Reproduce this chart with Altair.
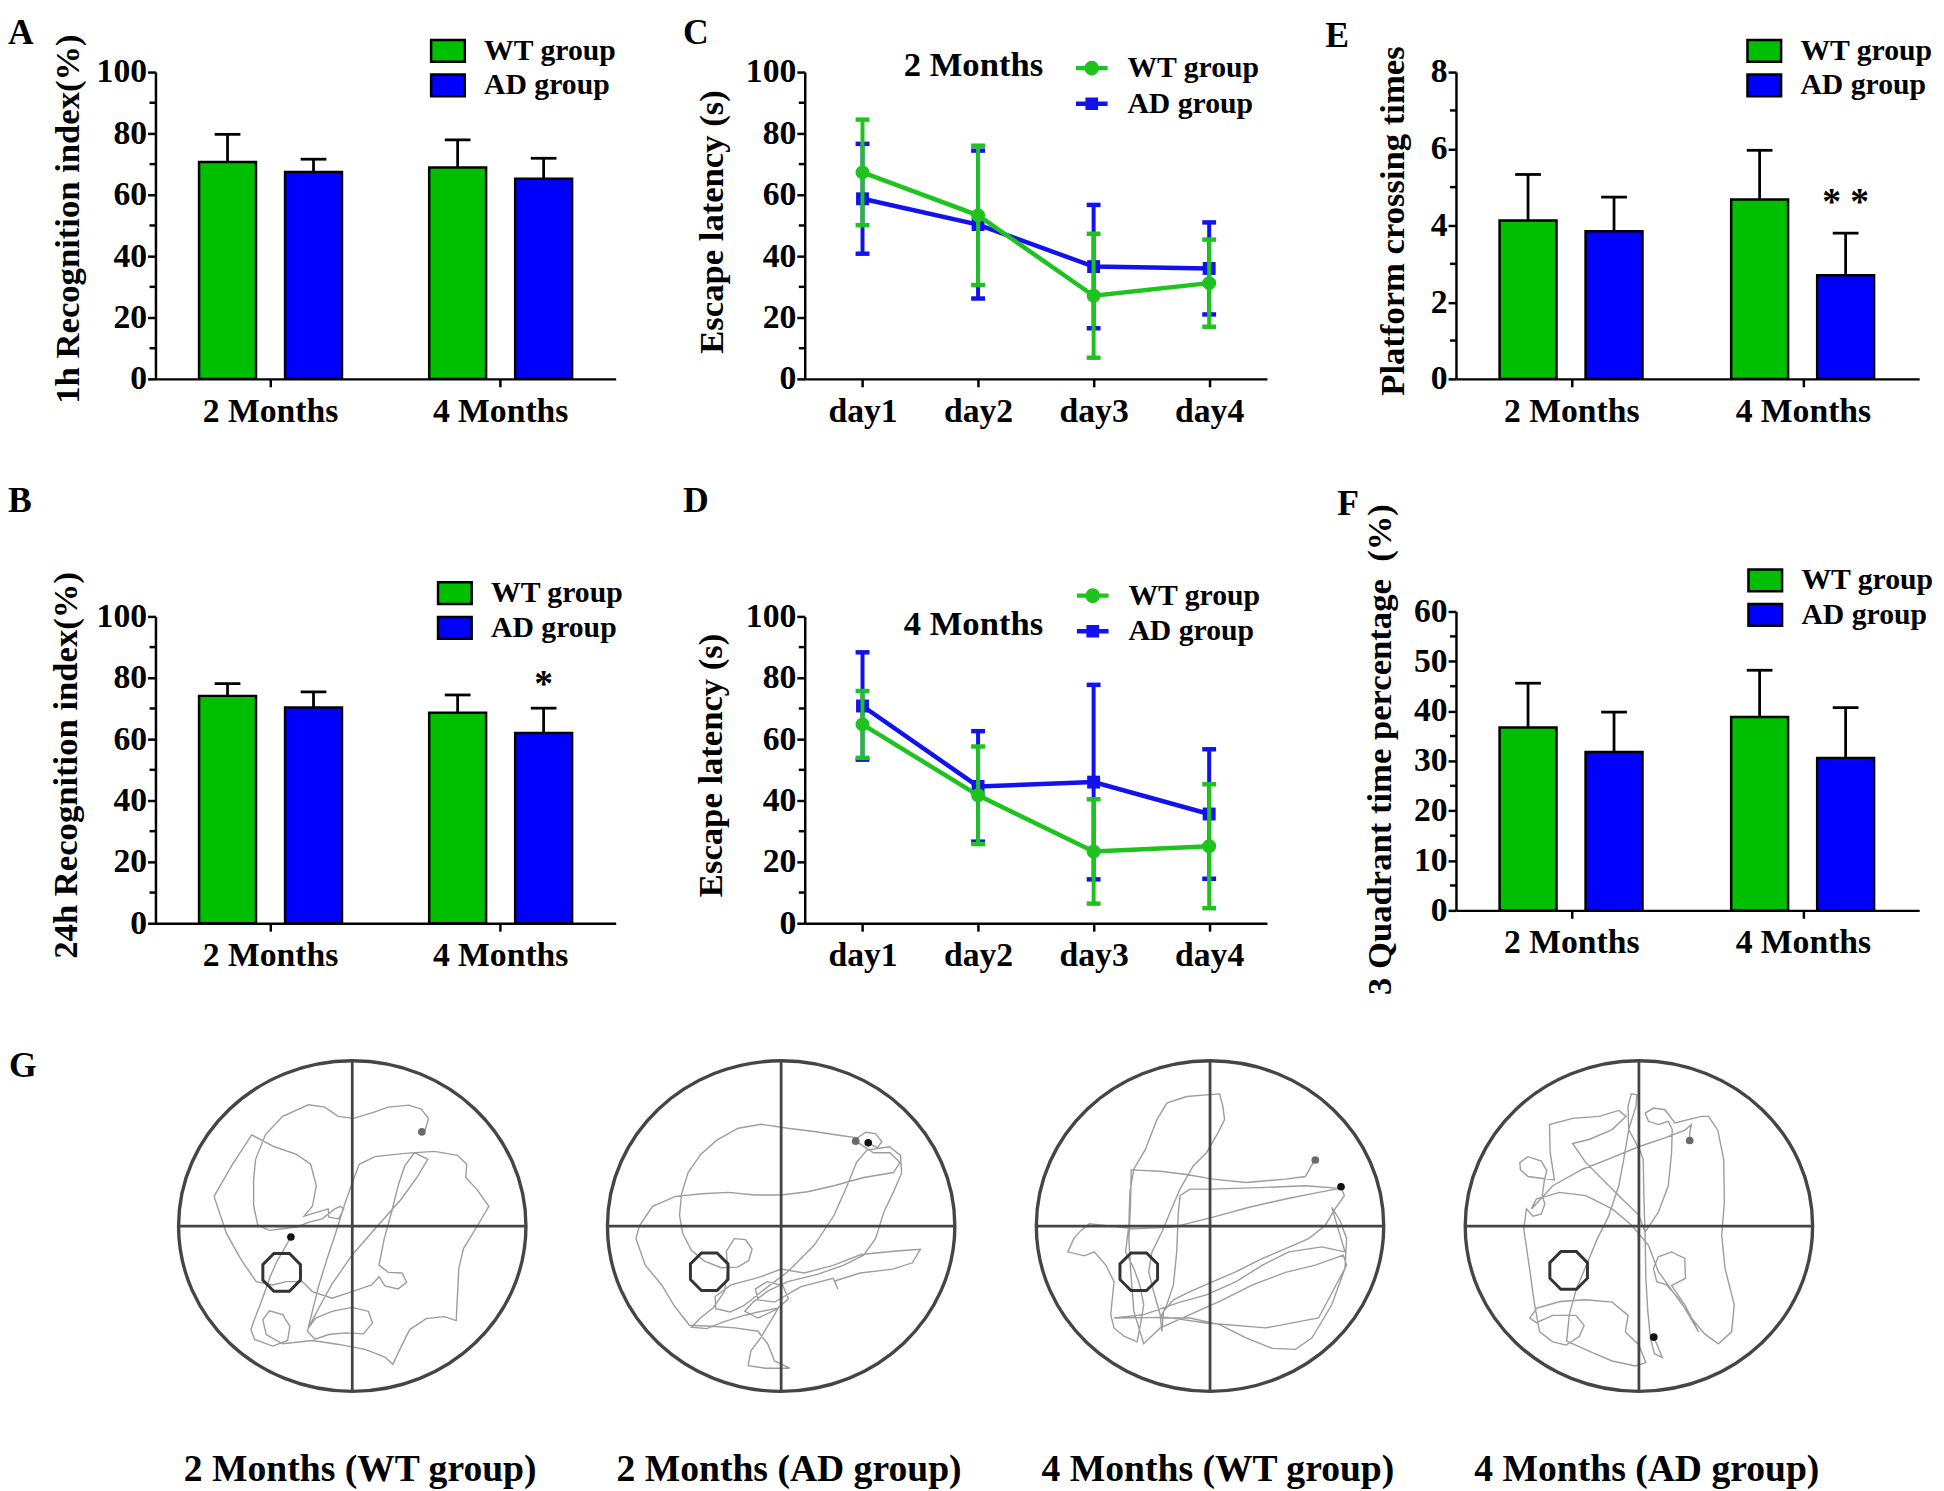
import altair as alt
import pandas as pd

FONT = "Liberation Serif"
GREEN = "#00BE00"
BLUE = "#0000FF"
LGREEN = "#1EC31E"
LBLUE = "#1212F0"

months = ["2 Months", "4 Months"]
groups = ["WT group", "AD group"]
days = ["day1", "day2", "day3", "day4"]

# Panel A: 1h recognition index (mean, SEM)
a_wt_mean = [70.7, 68.9]; a_wt_sem = [9.0, 9.0]
a_ad_mean = [67.4, 65.2]; a_ad_sem = [4.2, 6.7]
# Panel B: 24h recognition index
b_wt_mean = [74.1, 68.6]; b_wt_sem = [4.0, 5.8]
b_ad_mean = [70.3, 62.0]; b_ad_sem = [5.1, 8.1]
# Panel E: platform crossing times
e_wt_mean = [4.13, 4.68]; e_wt_sem = [1.20, 1.28]
e_ad_mean = [3.85, 2.70]; e_ad_sem = [0.89, 1.10]
# Panel F: 3 quadrant time percentage
f_wt_mean = [36.7, 38.8]; f_wt_sem = [8.9, 9.4]
f_ad_mean = [31.8, 30.6]; f_ad_sem = [8.0, 10.1]
# Panel C: escape latency, 2 months
c_wt_mean = [67.3, 53.3, 27.1, 31.2]; c_wt_sem = [17.2, 22.7, 20.2, 14.2]
c_ad_mean = [58.7, 50.3, 36.6, 36.0]; c_ad_sem = [17.9, 24.1, 20.1, 15.0]
# Panel D: escape latency, 4 months
d_wt_mean = [64.8, 41.7, 23.4, 25.1]; d_wt_sem = [10.9, 15.9, 17.0, 20.2]
d_ad_mean = [70.8, 44.6, 46.0, 35.6]; d_ad_sem = [17.5, 18.0, 31.7, 21.1]

# Panel G: swim tracks (tracking-camera pixel units, y downward)
pool_cx = [541, 540, 531, 501]
pool_cy = 522
POOL_RX, POOL_RY = 526.5, 500
p1 = [(355,555),(335,590),(312,630),(292,675),(278,715),(262,760),(246,800),(234,835),(245,865),(300,885),(345,868),(352,825),(330,790),(290,778),(270,805),(280,850),(330,878),(420,868),(500,880),(580,895),(640,918),(664,940),(690,885),(715,835),(765,802),(820,796),(856,808),(860,730),(864,650),(878,590),(915,530),(955,462),(918,410),(885,375),(888,335),(860,308),(790,296),(700,302),(610,312),(562,335),(545,380),(520,450),(490,545),(465,620),(440,700),(420,780),(405,840),(428,864),(470,850),(520,845),(575,848),(602,815),(590,780),(540,768),(480,780),(430,800),(408,830),(445,760),(478,700),(540,610),(610,530),(690,440),(740,370),(770,320),(730,300),(700,340),(680,400),(660,480),(638,560),(622,640),(650,662),(692,664),(706,692),(680,712),(640,703),(622,675),(600,700),(540,720),(480,740),(420,720),(390,690),(340,690),(300,700),(250,690),(205,625),(160,545),(122,432),(178,335),(236,246),(305,282),(372,305),(415,335),(432,400),(420,462),(395,492),(440,478),(468,470),(470,495),(500,500),(515,470),(505,462),(488,470),(450,500),(410,510),(372,525),(330,530),(290,535),(255,520),(242,460),(242,380),(248,320),(278,245),(330,190),(408,155),(458,162),(498,190),(545,196),(605,178),(650,162),(712,156),(750,168),(772,196),(762,232),(752,237)]
p2 = [(804,270),(832,285),(845,266),(826,242),(796,238),(772,255),(720,248),(640,236),(560,226),(480,214),(410,226),(345,262),(296,305),(258,360),(238,425),(232,490),(242,545),(268,595),(308,628),(358,648),(408,646),(442,626),(452,592),(432,563),(398,560),(374,598),(378,655),(368,720),(335,768),(295,800),(268,828),(315,832),(365,812),(418,795),(470,782),(530,770),(562,742),(545,702),(498,690),(462,712),(470,745),(520,752),(600,705),(698,680),(712,712),(702,688),(780,664),(878,652),(938,633),(962,592),(880,598),(782,608),(700,640),(610,664),(540,652),(470,678),(388,700),(340,735),(342,772),(385,782),(428,762),(478,722),(560,660),(640,580),(700,490),(740,400),(768,330),(800,292),(868,282),(902,308),(905,362),(880,420),(852,478),(826,560),(790,610),(730,640),(650,668),(560,690),(500,718),(455,752),(430,780),(470,800),(530,772),(505,815),(478,860),(448,900),(440,944),(492,952),(566,952),(520,930),(500,880),(470,840),(400,830),(330,825),(262,822),(218,766),(178,700),(128,640),(100,560),(110,522),(150,462),(220,432),(300,424),(380,420),(460,428),(540,428),(620,418),(700,400),(790,375),(880,360),(900,330),(870,300),(820,300),(766,265)]
p3 = [(928,403),(938,430),(910,470),(880,520),(830,560),(760,590),(690,620),(610,660),(540,690),(470,720),(420,745),(390,780),(385,840),(380,790),(360,720),(345,660),(355,600),(385,540),(410,480),(440,410),(480,340),(520,300),(555,240),(575,200),(570,160),(560,122),(520,125),(460,130),(400,150),(370,200),(335,290),(300,350),(288,420),(285,520),(275,600),(300,650),(318,700),(330,760),(320,820),(310,872),(270,855),(240,830),(230,790),(240,690),(215,640),(180,600),(150,612),(100,600),(118,560),(140,535),(165,515),(230,522),(300,530),(420,525),(540,495),(650,465),(760,440),(860,420),(925,408),(820,400),(700,405),(540,410),(470,410),(440,430),(435,480),(430,600),(420,700),(400,760),(380,800),(470,800),(560,820),(640,860),(720,892),(790,895),(840,860),(900,760),(940,650),(945,560),(925,505),(900,465),(940,600),(870,585),(770,600),(690,640),(610,690),(520,730),(440,752),(330,790),(240,800),(400,798),(520,815),(700,830),(860,800),(945,640),(935,610),(850,640),(760,662),(660,700),(560,750),(470,790),(380,830),(330,878),(300,780),(290,650),(285,560),(290,460),(292,352),(380,356),(460,366),(540,380),(640,390),(760,380),(820,372),(838,340),(850,322)]
p4 = [(546,858),(562,895),(572,920),(548,908),(536,862),(528,780),(522,680),(520,560),(516,430),(514,320),(505,295),(470,230),(468,160),(478,122),(495,125),(492,160),(470,230),(455,320),(440,400),(408,495),(375,560),(342,640),(312,710),(290,790),(282,870),(360,905),(420,930),(490,945),(522,935),(500,880),(460,842),(468,792),(420,752),(340,745),(262,750),(192,770),(170,800),(190,814),(240,792),(310,792),(335,822),(320,856),(280,882),(240,872),(200,842),(185,760),(168,640),(152,530),(160,470),(180,492),(205,485),(216,455),(208,430),(215,380),(222,355),(205,325),(165,312),(140,330),(142,352),(165,372),(210,378),(245,382),(232,300),(230,215),(300,196),(380,190),(440,172),(462,190),(420,230),(350,260),(300,272),(340,330),(400,390),(450,440),(500,488),(520,540),(560,480),(590,400),(600,300),(602,230),(590,205),(560,215),(530,205),(520,180),(545,165),(580,170),(610,210),(690,190),(712,190),(740,232),(758,320),(760,450),(752,550),(762,650),(790,760),(782,842),(742,878),(700,848),(660,800),(620,740),(585,700),(555,690),(545,650),(560,615),(600,600),(640,620),(642,680),(600,702),(640,760),(682,842),(640,770),(560,660),(530,580),(480,520),(420,470),(340,430),(260,420),(190,440),(175,470),(240,400),(330,350),(420,315),(500,282),(580,255),(640,232),(660,215),(655,240),(655,263)]
pool_paths = [p1, p2, p3, p4]
platform_xy = [(327, 662), (322, 660), (315, 660), (288, 656)]
start_xy = [(355, 555), (804, 270), (928, 403), (546, 858)]
end_xy = [(752, 237), (766, 265), (850, 322), (655, 263)]
g_labels = ["2 Months (WT group)", "2 Months (AD group)", "4 Months (WT group)", "4 Months (AD group)"]
PITCH = 1300

RECT = "M-1,-0.647H1V0.647H-1Z"
LEG_WT = "M-1,-0.14H1V0.14H-1Z M-0.46,0A0.46,0.46,0,1,1,0.46,0A0.46,0.46,0,1,1,-0.46,0Z"
LEG_AD = "M-1,-0.14H1V0.14H-1Z M-0.4,-0.4H0.4V0.4H-0.4Z"
ELLIPSE = "M-1,0A1,0.9516,0,1,1,1,0A1,0.9516,0,1,1,-1,0Z"
OCTAGON = "M-0.414,-1L0.414,-1L1,-0.414L1,0.414L0.414,1L-0.414,1L-1,0.414L-1,-0.414Z"

W1, W2, W3 = 465, 467, 468
H = 310
LEGFS = 30


def xaxis():
    return alt.Axis(title=None, labelAngle=0, labelPadding=8, labelOverlap=False, labelFontSize=34)


def yaxis(vals, title, tx, ty):
    return alt.Axis(values=vals, title=title, titleX=tx, titleY=ty, titleAngle=270,
                    titleAlign="center", titleBaseline="alphabetic", labelPadding=1,
                    labelOverlap=False)


def letter_layer(letter, x, y):
    return alt.Chart(pd.DataFrame({"t": [letter]})).mark_text(
        align="left", baseline="alphabetic", font=FONT, fontSize=36,
        fontWeight="bold", color="black").encode(text="t:N", x=alt.value(x), y=alt.value(y))


def minor_layer(vals, yscale, yax, field):
    return alt.Chart(pd.DataFrame({field: vals})).mark_tick(
        orient="horizontal", size=6, thickness=2.5, color="black", opacity=1).encode(
        y=alt.Y(f"{field}:Q", scale=yscale, axis=yax), x=alt.value(-3))


def bar_panel(wt_m, wt_s, ad_m, ad_s, ymax, yvals, minor, ytitle, tx, ty, letter, lx, ly,
              legx, legy, width, height, yrange=None, star=None, star_dy=0):
    rows = []
    for i, m in enumerate(months):
        rows.append({"month": m, "group": groups[0], "mean": wt_m[i], "top": wt_m[i] + wt_s[i]})
        rows.append({"month": m, "group": groups[1], "mean": ad_m[i], "top": ad_m[i] + ad_s[i]})
    df = pd.DataFrame(rows)
    sc = dict(domain=[0, ymax], nice=False, zero=True)
    if yrange is not None:
        sc["range"] = yrange
    yscale = alt.Scale(**sc)
    yax = yaxis(yvals, ytitle, tx, ty)
    xenc = alt.X("month:N", sort=months, scale=alt.Scale(paddingInner=0, paddingOuter=0), axis=xaxis())
    xo = alt.XOffset("group:N", sort=groups,
                     scale=alt.Scale(domain=groups, paddingInner=0.338, paddingOuter=0.507))
    base = alt.Chart(df)
    leg = alt.Legend(orient="none", legendX=legx, legendY=legy, title=None, symbolType=RECT,
                     symbolSize=1156, symbolStrokeColor="black", symbolStrokeWidth=2.5,
                     symbolOpacity=1, labelFont=FONT, labelFontSize=LEGFS, labelFontWeight="bold",
                     labelColor="black", labelOffset=18, rowPadding=0, padding=0, labelLimit=400)
    bars = base.mark_bar(stroke="black", strokeWidth=2.5, opacity=1).encode(
        x=xenc, xOffset=xo, y=alt.Y("mean:Q", scale=yscale, axis=yax),
        fill=alt.Fill("group:N", scale=alt.Scale(domain=groups, range=[GREEN, BLUE]), legend=leg))
    err = base.mark_rule(color="black", strokeWidth=2.8).encode(
        x=xenc, xOffset=xo, y=alt.Y("mean:Q", scale=yscale, axis=yax), y2="top:Q")
    cap = base.mark_tick(orient="horizontal", size=26, thickness=2.8, color="black", opacity=1).encode(
        x=xenc, xOffset=xo, y=alt.Y("top:Q", scale=yscale, axis=yax))
    layers = [bars, err, cap, minor_layer(minor, yscale, yax, "top"), letter_layer(letter, lx, ly)]
    if star is not None:
        sdf = df[(df["month"] == star[0]) & (df["group"] == star[1])].copy()
        sdf["label"] = star[2]
        layers.append(alt.Chart(sdf).mark_text(
            font=FONT, fontSize=38, fontWeight="bold", color="black", baseline="alphabetic",
            dy=star_dy).encode(x=xenc, xOffset=xo, y=alt.Y("top:Q", scale=yscale, axis=yax),
                               text="label:N"))
    return alt.layer(*layers).properties(width=width, height=height)


SYM_SHAPE = f"datum.value === '{groups[0]}' ? '{LEG_WT}' : '{LEG_AD}'"


def line_panel(wt_m, wt_s, ad_m, ad_s, ytitle, tx, ty, letter, lx, ly, legx, legy,
               sub, sx, sy, width, height):
    rows = []
    for g, mm, ss in [(groups[1], ad_m, ad_s), (groups[0], wt_m, wt_s)]:
        for i, d in enumerate(days):
            rows.append({"day": d, "group": g, "mean": mm[i], "lo": mm[i] - ss[i], "hi": mm[i] + ss[i]})
    df = pd.DataFrame(rows)
    yscale = alt.Scale(domain=[0, 100], nice=False, zero=True)
    yax = yaxis([0, 20, 40, 60, 80, 100], ytitle, tx, ty)
    xenc = alt.X("day:N", sort=days, scale=alt.Scale(type="point", padding=0.5), axis=xaxis())
    base = alt.Chart(df)
    layers = []
    # AD drawn first (underneath), WT on top
    for g, c, shp, sz in [(groups[1], LBLUE, "square", 170), (groups[0], LGREEN, "circle", 200)]:
        sub_base = base.transform_filter(alt.datum.group == g)
        layers.append(sub_base.mark_rule(strokeWidth=4, color=c).encode(
            x=xenc, y=alt.Y("lo:Q", scale=yscale, axis=yax), y2="hi:Q"))
        layers.append(sub_base.mark_tick(orient="horizontal", size=14, thickness=4.5, opacity=1,
                                         color=c).encode(x=xenc, y=alt.Y("lo:Q", scale=yscale, axis=yax)))
        layers.append(sub_base.mark_tick(orient="horizontal", size=14, thickness=4.5, opacity=1,
                                         color=c).encode(x=xenc, y=alt.Y("hi:Q", scale=yscale, axis=yax)))
        layers.append(sub_base.mark_line(strokeWidth=4.5, color=c).encode(
            x=xenc, y=alt.Y("mean:Q", scale=yscale, axis=yax)))
        layers.append(sub_base.mark_point(shape=shp, filled=True, size=sz, opacity=1, color=c).encode(
            x=xenc, y=alt.Y("mean:Q", scale=yscale, axis=yax)))
    leg = alt.Legend(orient="none", legendX=legx, legendY=legy, title=None, symbolSize=1024,
                     symbolType={"expr": SYM_SHAPE}, symbolOpacity=1, symbolStrokeWidth=0,
                     labelFont=FONT, labelFontSize=LEGFS,
                     labelFontWeight="bold", labelColor="black", labelOffset=20, rowPadding=5,
                     padding=0, labelLimit=400)
    leg_layer = base.mark_point(filled=True, size=1024, opacity=0).encode(
        x=xenc, y=alt.Y("mean:Q", scale=yscale, axis=yax),
        fill=alt.Fill("group:N", scale=alt.Scale(domain=groups, range=[LGREEN, LBLUE]), legend=leg))
    layers.append(leg_layer)
    layers.append(minor_layer([10, 30, 50, 70, 90], yscale, yax, "lo"))
    layers.append(letter_layer(letter, lx, ly))
    layers.append(alt.Chart(pd.DataFrame({"t": [sub]})).mark_text(
        align="left", baseline="alphabetic", font=FONT, fontSize=35, fontWeight="bold",
        color="black").encode(text="t:N", x=alt.value(sx), y=alt.value(sy)))
    return alt.layer(*layers).properties(width=width, height=height)


A = bar_panel(a_wt_mean, a_wt_sem, a_ad_mean, a_ad_sem, 100, [0, 20, 40, 60, 80, 100],
              [10, 30, 50, 70, 90], "1h Recognition index(%)", -78, 148, "A", -149, -28,
              277, -40, W1, H)
B = bar_panel(b_wt_mean, b_wt_sem, b_ad_mean, b_ad_sem, 100, [0, 20, 40, 60, 80, 100],
              [10, 30, 50, 70, 90], "24h Recognition index(%)", -80, 150, "B", -149, -106,
              284, -42, W1, H, star=("4 Months", "AD group", "*"), star_dy=-12)
E = bar_panel(e_wt_mean, e_wt_sem, e_ad_mean, e_ad_sem, 8, [0, 2, 4, 6, 8], [1, 3, 5, 7],
              "Platform crossing times", -53, 150, "E", -132, -25, 293, -40, W3, H,
              star=("4 Months", "AD group", "* *"), star_dy=-19)
F = bar_panel(f_wt_mean, f_wt_sem, f_ad_mean, f_ad_sem, 60, [0, 10, 20, 30, 40, 50, 60],
              [5, 15, 25, 35, 45, 55], "3 Quadrant time percentage\u00a0 (%)", -66, 134, "F",
              -120, -102, 294, -55, W3, 297, yrange=[297, -5])
C = line_panel(c_wt_mean, c_wt_sem, c_ad_mean, c_ad_sem, "Escape latency (s)", -83, 151, "C",
               -123, -28, 274, -20, "2 Months", 100, 4, W2, H)
D = line_panel(d_wt_mean, d_wt_sem, d_ad_mean, d_ad_sem, "Escape latency (s)", -84, 150, "D",
               -123, -106, 275, -37, "4 Months", 100, 19, W2, H)

# ---- Panel G ----
path_rows = []
for k, pts in enumerate(pool_paths):
    for i, (x, y) in enumerate(pts):
        path_rows.append({"pool": k, "i": i, "gx": x - pool_cx[k] + k * PITCH, "gy": y - pool_cy})
path_df = pd.DataFrame(path_rows)
pool_df = pd.DataFrame({"gx": [k * PITCH for k in range(4)], "gy": [0] * 4})
cross_df = pd.DataFrame(
    [{"gx": k * PITCH, "gy": -POOL_RY, "gx2": k * PITCH, "gy2": POOL_RY} for k in range(4)] +
    [{"gx": k * PITCH - POOL_RX, "gy": 0, "gx2": k * PITCH + POOL_RX, "gy2": 0} for k in range(4)])
plat_df = pd.DataFrame([{"gx": x - pool_cx[k] + k * PITCH, "gy": y - pool_cy}
                        for k, (x, y) in enumerate(platform_xy)])
end_df = pd.DataFrame([{"gx": x - pool_cx[k] + k * PITCH, "gy": y - pool_cy} for k, (x, y) in enumerate(end_xy)])
start_df = pd.DataFrame([{"gx": x - pool_cx[k] + k * PITCH, "gy": y - pool_cy} for k, (x, y) in enumerate(start_xy)])
lab_df = pd.DataFrame({"gx": [k * PITCH for k in range(4)], "t": g_labels})

gxs = alt.Scale(domain=[-596.5, 798.5], nice=False, zero=False)
gys = alt.Scale(domain=[-500, 500], range=[-101, 233], nice=False, zero=False)
GX = alt.X("gx:Q", scale=gxs, axis=None)
GY = alt.Y("gy:Q", scale=gys, axis=None)

g_path = alt.Chart(path_df).mark_line(color="#9C9C9C", strokeWidth=1.4).encode(
    x=GX, y=GY, detail="pool:N", order="i:Q")
g_pool = alt.Chart(pool_df).mark_point(shape=ELLIPSE, size=351 * 351, filled=False,
                                       stroke="#454545", strokeWidth=3.4, opacity=1).encode(x=GX, y=GY)
g_cross = alt.Chart(cross_df).mark_rule(color="#454545", strokeWidth=2.8).encode(
    x=GX, y=GY, x2="gx2:Q", y2="gy2:Q")
g_plat = alt.Chart(plat_df).mark_point(shape=OCTAGON, size=1444, filled=False, stroke="#333333",
                                       strokeWidth=3, opacity=1).encode(x=GX, y=GY)
g_end = alt.Chart(end_df).mark_circle(size=60, opacity=1, color="#6a6a6a").encode(x=GX, y=GY)
g_start = alt.Chart(start_df).mark_circle(size=60, opacity=1, color="#111111").encode(x=GX, y=GY)
g_lab = alt.Chart(lab_df).mark_text(font=FONT, fontSize=38, fontWeight="bold", color="black",
                                    baseline="alphabetic", align="center", dx=8).encode(
    x=GX, y=alt.value(324), text="t:N")
G = alt.layer(g_path, g_cross, g_pool, g_plat, g_end, g_start, g_lab,
              letter_layer("G", -148, -85)).properties(width=W1, height=233)

chart = alt.concat(A, C, E, B, D, F, G, columns=3, spacing={"row": 240, "column": 191},
                   bounds="flush").resolve_scale(
    fill="independent", x="independent", y="independent"
).resolve_legend(fill="independent").properties(
    padding={"left": 0, "top": 0, "right": 2, "bottom": 2}, background="white"
).configure_view(stroke=None).configure_axis(
    domainColor="black", domainWidth=2.5, tickColor="black", tickWidth=2.5, tickSize=8,
    labelFont=FONT, labelFontSize=34, labelFontWeight="bold", labelColor="black",
    titleFont=FONT, titleFontSize=35, titleFontWeight="bold", titleColor="black", grid=False
).configure_text(font=FONT)

chart.save("out.html", embed_options={"renderer": "svg", "actions": False})
